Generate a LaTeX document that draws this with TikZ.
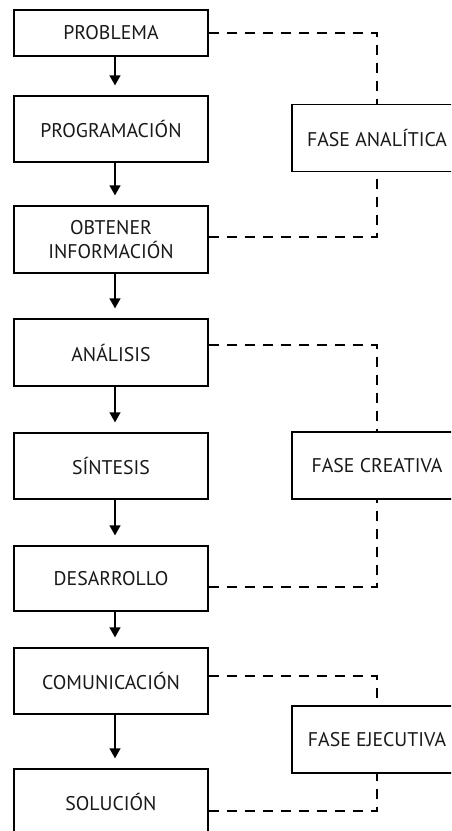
\documentclass[tikz,border=0pt]{standalone}
\usepackage{fontspec}
\setmainfont{PT Sans}
\usetikzlibrary{arrows.meta,positioning,calc}
\begin{document}
\begin{tikzpicture}[x=1pt,y=-1pt,
  font=\fontsize{19.8}{23.5}\selectfont,
  stepbox/.style={draw=black,line width=1.3pt,minimum width=194pt,inner sep=0pt,align=center,text=black!90},
  phasebox/.style={draw=black,line width=1.3pt,minimum width=170pt,minimum height=67pt,inner sep=0pt,text=black!90},
  flow/.style={line width=1.3pt,-{Triangle[width=11pt,length=10pt]},shorten >=10pt},
  link/.style={line width=1.3pt,dash pattern=on 10pt off 8pt}]
\useasboundingbox (0,0) rectangle (451,831);
\clip (0,0) rectangle (451,831);
\fill[white] (0,0) rectangle (451,831);
% step boxes
\node[stepbox,minimum height=46pt] (p1) at (111,33) {PROBLEMA};
\node[stepbox,minimum height=66pt] (p2) at (111,129) {PROGRAMACIÓN};
\node[stepbox,minimum height=67pt] (p3) at (111,239.5) {OBTENER\\INFORMACIÓN};
\node[stepbox,minimum height=67pt] (p4) at (111,352.5) {ANÁLISIS};
\node[stepbox,minimum height=66pt] (p5) at (111,466) {SÍNTESIS};
\node[stepbox,minimum height=65pt] (p6) at (111,578.5) {DESARROLLO};
\node[stepbox,minimum height=66pt] (p7) at (111,681) {COMUNICACIÓN};
\node[stepbox,minimum height=66pt] (p8) at (111,802) {SOLUCIÓN};
% phase boxes
\node[phasebox] (f1) at (377,138) {FASE ANALÍTICA};
\node[phasebox] (f2) at (377,465.5) {FASE CREATIVA};
\node[phasebox] (f3) at (377,739.5) {FASE EJECUTIVA};
% flow arrows
\foreach \a/\b in {p1/p2,p2/p3,p3/p4,p4/p5,p5/p6,p6/p7,p7/p8}
  \draw[flow] ([xshift=4pt]\a.south) -- ([xshift=4pt]\b.north);
% dashed links
\draw[link] (p1.east) -| (f1.north);
\draw[link] ([yshift=2.5pt]p3.east) -| (f1.south);
\draw[link] ([yshift=7.5pt]p4.east) -| (f2.north);
\draw[link] ([yshift=-8.5pt]p6.east) -| (f2.south);
\draw[link] ([yshift=5pt]p7.east) -| (f3.north);
\draw[link] ([yshift=-9pt]p8.east) -| (f3.south);
\end{tikzpicture}
\end{document}
